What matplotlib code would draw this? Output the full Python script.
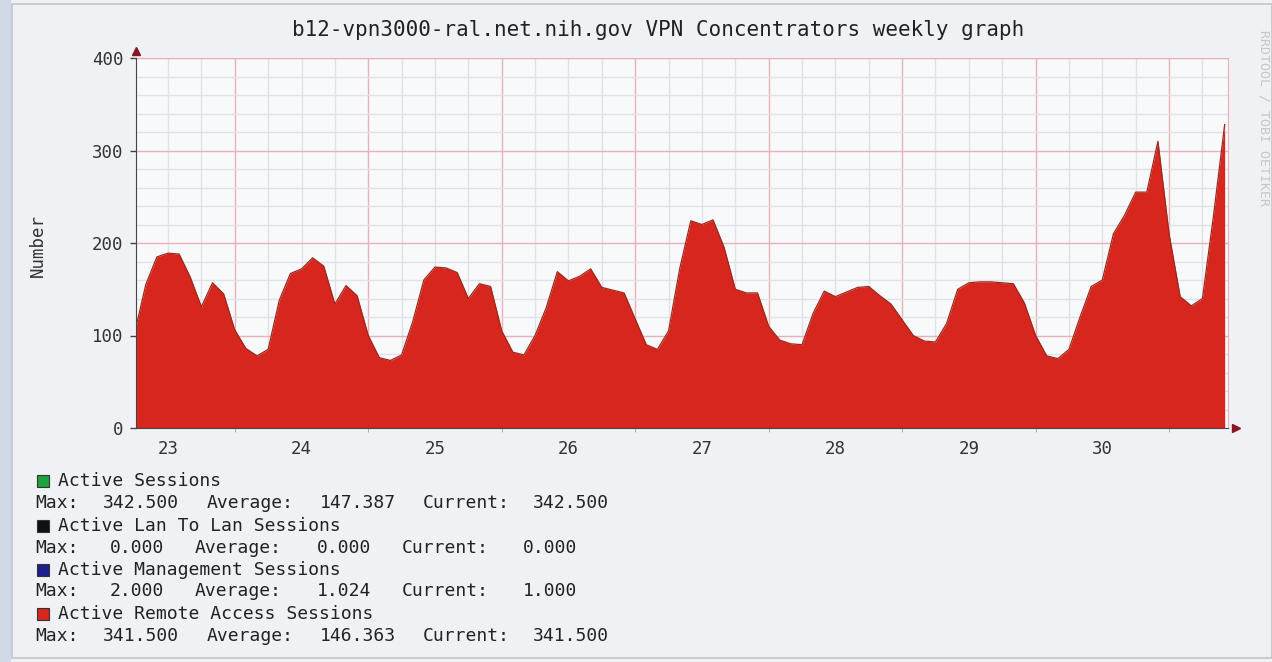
import matplotlib
matplotlib.use('Agg')
import matplotlib.pyplot as plt
from matplotlib.patches import Rectangle
import numpy as np

# data: sessions, sampled every 2 hours (hours counted from day 23 00:00)
hours = list(range(6, 203, 2))
remote_sessions = [
    103, 155, 185, 189, 188, 163, 131, 157, 145, 106,
    86, 78, 85, 138, 167, 172, 184, 175, 134, 154,
    143, 100, 76, 73, 79, 115, 160, 174, 173, 168,
    140, 156, 153, 105, 82, 79, 100, 130, 169, 159,
    164, 172, 152, 149, 146, 118, 90, 85, 105, 172,
    224, 220, 225, 195, 150, 146, 146, 110, 95, 91,
    90, 124, 148, 142, 147, 152, 153, 143, 134, 117,
    100, 94, 93, 113, 150, 157, 158, 158, 157, 156,
    135, 100, 78, 75, 85, 120, 153, 160, 210, 230,
    255, 255, 310, 210, 142, 132, 140, 230, 328,
]
day_labels = ['23', '24', '25', '26', '27', '28', '29', '30']
day_noon = [12, 36, 60, 84, 108, 132, 156, 180]
midnights = [24, 48, 72, 96, 120, 144, 168, 192]
y_ticks = [0, 100, 200, 300, 400]

legend_names = ['Active Sessions', 'Active Lan To Lan Sessions',
                'Active Management Sessions', 'Active Remote Access Sessions']
legend_colors = ['#1DA33D', '#111111', '#1E1E8C', '#D7261E']
stat_max = ['342.500', '0.000', '2.000', '341.500']
stat_avg = ['147.387', '0.000', '1.024', '146.363']
stat_cur = ['342.500', '0.000', '1.000', '341.500']

mono = 'DejaVu Sans Mono'
W, H = 1272, 662

fig = plt.figure(figsize=(12.72, 6.62), dpi=100, facecolor='#EFF1F4')

# page background / frame
fig.patches.append(Rectangle((0, 0), 11 / W, 1, transform=fig.transFigure,
                             facecolor='#D2D9E6', edgecolor='none', zorder=0))
fig.patches.append(Rectangle((12 / W, 4 / H), (W - 12) / W, (H - 8) / H,
                             transform=fig.transFigure, facecolor='none',
                             edgecolor='#BFC4CC', linewidth=1.2, zorder=1))

ax = fig.add_axes([136 / W, 1 - 428 / H, (1228 - 136) / W, (428 - 58) / H])
ax.set_facecolor('#F8F9FB')
ax.set_xlim(6.24, 202.6)
ax.set_ylim(0, 400)

# grid
for h in range(6, 203, 6):
    if h not in midnights:
        ax.axvline(h, color='#E0E2E7', lw=1, zorder=1)
for h in midnights:
    ax.axvline(h, color='#EAB0B5', lw=1, zorder=1)
for v in range(20, 400, 20):
    if v % 100:
        ax.axhline(v, color='#E0E2E7', lw=1, zorder=1)
for v in [100, 200, 300, 400]:
    ax.axhline(v, color='#EAB0B5', lw=1, zorder=1)

ax.fill_between(hours, remote_sessions, 0, color='#D7261E', lw=0, zorder=2)
ax.plot(hours, remote_sessions, color='#9A2A1C', lw=0.9, zorder=3)

# axes styling
for s in ['top', 'right']:
    ax.spines[s].set_color('#EAB0B5')
ax.spines['left'].set_color('#454545')
ax.spines['bottom'].set_color('#454545')
ax.spines['left'].set_zorder(4)
ax.spines['bottom'].set_zorder(4)

ax.set_yticks(y_ticks)
ax.set_yticklabels([str(v) for v in y_ticks], family=mono, fontsize=12.5, color='#333333')
ax.tick_params(axis='y', length=4, width=1, color='#454545', pad=5)
ax.set_xticks(day_noon)
ax.set_xticklabels(day_labels, family=mono, fontsize=12.5, color='#333333')
ax.set_xticks(midnights, minor=True)
ax.tick_params(axis='x', which='major', length=0, pad=9)
ax.tick_params(axis='x', which='minor', length=3, color='#A0A0A0')

# axis arrows
ax.plot([0], [1.02], marker='^', color='#8A1424', markersize=6,
        transform=ax.transAxes, clip_on=False, zorder=5)
ax.plot([1.007], [0], marker='>', color='#8A1424', markersize=6,
        transform=ax.transAxes, clip_on=False, zorder=5)

# titles
fig.text(658 / W, 1 - 30 / H, 'b12-vpn3000-ral.net.nih.gov VPN Concentrators weekly graph',
         family=mono, fontsize=15, ha='center', va='center', color='#222222')
fig.text(38 / W, 1 - 245 / H, 'Number', family=mono, fontsize=12.5, rotation=90,
         ha='center', va='center', color='#333333')
fig.text(1264 / W, 1 - 118 / H, 'RRDTOOL / TOBI OETIKER', family=mono, fontsize=9.5,
         rotation=-90, ha='center', va='center', color='#C4C7CC')

# legend
row_y = [481, 503, 526, 548, 570, 591, 614, 636]
for i, name in enumerate(legend_names):
    y1 = row_y[2 * i]
    y2 = row_y[2 * i + 1]
    fig.patches.append(Rectangle((37 / W, 1 - (y1 + 6) / H), 12 / W, 12 / H,
                                 transform=fig.transFigure, facecolor=legend_colors[i],
                                 edgecolor='#333333', linewidth=0.8, zorder=3))
    fig.text(58 / W, 1 - y1 / H, name, family=mono, fontsize=13,
             ha='left', va='center', color='#222222')
    big = len(stat_max[i]) > 5
    fig.text(35 / W, 1 - y2 / H, 'Max:', family=mono, fontsize=13,
             ha='left', va='center', color='#222222')
    fig.text((103 if big else 110) / W, 1 - y2 / H, stat_max[i], family=mono, fontsize=13,
             ha='left', va='center', color='#222222')
    fig.text((207 if big else 195) / W, 1 - y2 / H, 'Average:', family=mono, fontsize=13,
             ha='left', va='center', color='#222222')
    fig.text((320 if len(stat_avg[i]) > 5 else 317) / W, 1 - y2 / H, stat_avg[i],
             family=mono, fontsize=13, ha='left', va='center', color='#222222')
    fig.text((423 if big else 402) / W, 1 - y2 / H, 'Current:', family=mono, fontsize=13,
             ha='left', va='center', color='#222222')
    fig.text((533 if big else 523) / W, 1 - y2 / H, stat_cur[i], family=mono, fontsize=13,
             ha='left', va='center', color='#222222')

fig.savefig('out.png', dpi=100, facecolor=fig.get_facecolor())
